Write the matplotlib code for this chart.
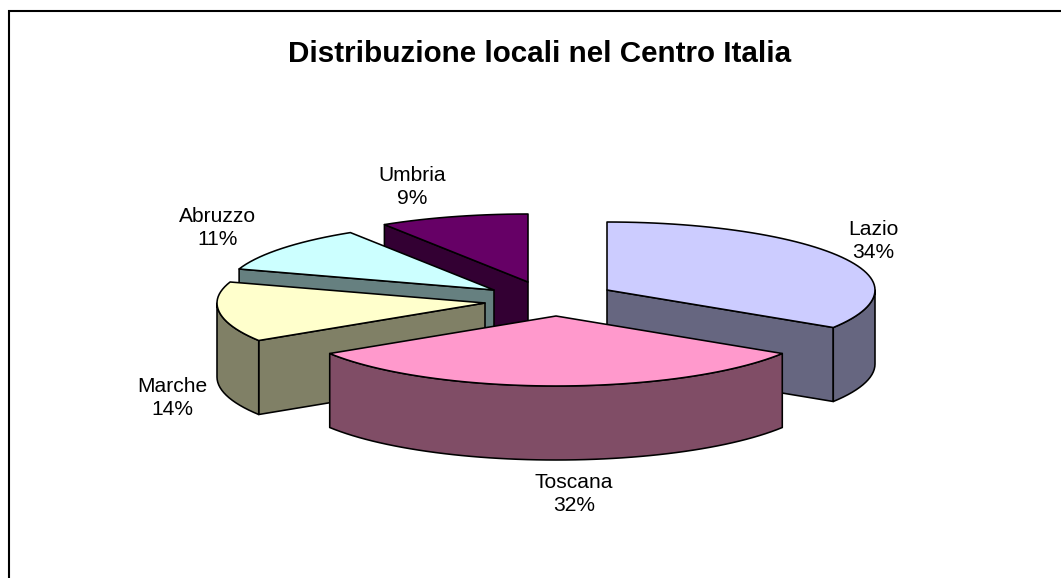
import numpy as np
from matplotlib import pyplot as plt
from matplotlib.patches import Polygon

plt.rcParams['font.family'] = ['Liberation Sans', 'DejaVu Sans']

# data
regions = ["Lazio", "Toscana", "Marche", "Abruzzo", "Umbria"]
shares = [34, 32, 14, 11, 9]
title = "Distribuzione locali nel Centro Italia"

# colours for top and side faces
top_colors = ["#CCCCFF", "#FF99CC", "#FFFFCC", "#CCFFFF", "#660066"]
side_colors = ["#666680", "#804D66", "#808066", "#668080", "#330033"]

# projected pie geometry, in pixels
rx, ry_back, ry_front, depth = 268, 68, 70, 74
apex = [(607, 290), (556, 316), (485, 303), (494, 290), (528, 282)]
label_pos = [(873, 241), (574, 494), (172, 398), (218, 228), (412, 187)]
draw_order = [4, 3, 2, 0, 1]  # back to front


def rim_point(c, ang):
    # ang is clockwise from the top, in degrees
    a = np.radians(ang)
    ry = ry_front if np.cos(a) < 0 else ry_back
    return np.array([c[0] + rx * np.sin(a), c[1] - ry * np.cos(a)])


def arc(c, a0, a1):
    n = max(int(abs(a1 - a0) / 2), 2)
    return np.array([rim_point(c, a) for a in np.linspace(a0, a1, n)])


fig = plt.figure(figsize=(10.61, 5.78), dpi=100)
ax = fig.add_axes([0, 0, 1, 1])
ax.set_xlim(0, 1061)
ax.set_ylim(578, 0)
ax.axis("off")

# chart frame, only left and top edges are inside the picture
ax.plot([8.5, 8.5, 1061], [578, 10.5, 10.5], color="black", lw=1.5, solid_joinstyle="miter")

total = float(sum(shares))
edges = np.concatenate([[0], np.cumsum(shares)]) / total * 360


def face(pts, color):
    ax.add_patch(Polygon(pts, closed=True, facecolor=color, edgecolor="black",
                         lw=1.15, joinstyle="round"))


for i in draw_order:
    a0, a1 = edges[i], edges[i + 1]
    c = np.array(apex[i], dtype=float)
    down = np.array([0, depth])
    # radial walls, only the ones facing the viewer
    for a in (a0, a1):
        outward = -np.sin(np.radians(a)) if a == a0 else np.sin(np.radians(a))
        if outward > 1e-6:
            p = rim_point(c, a)
            face([c, p, p + down, c + down], side_colors[i])
    # outer wall on the front half
    lo, hi = max(a0, 90), min(a1, 270)
    if hi > lo:
        r = arc(c, lo, hi)
        face(np.vstack([r, r[::-1] + down]), side_colors[i])
    # top face
    face(np.vstack([c, arc(c, a0, a1)]), top_colors[i])

for name, val, pos in zip(regions, shares, label_pos):
    ax.text(pos[0], pos[1], "%s\n%d%%" % (name, round(val / total * 100)), ha="center",
            va="center", fontsize=15.1, color="black", linespacing=1.24)

ax.text(540, 54, title, ha="center", va="center", fontsize=21.3, fontweight="bold", color="black")

fig.savefig("out.png", dpi=100)
